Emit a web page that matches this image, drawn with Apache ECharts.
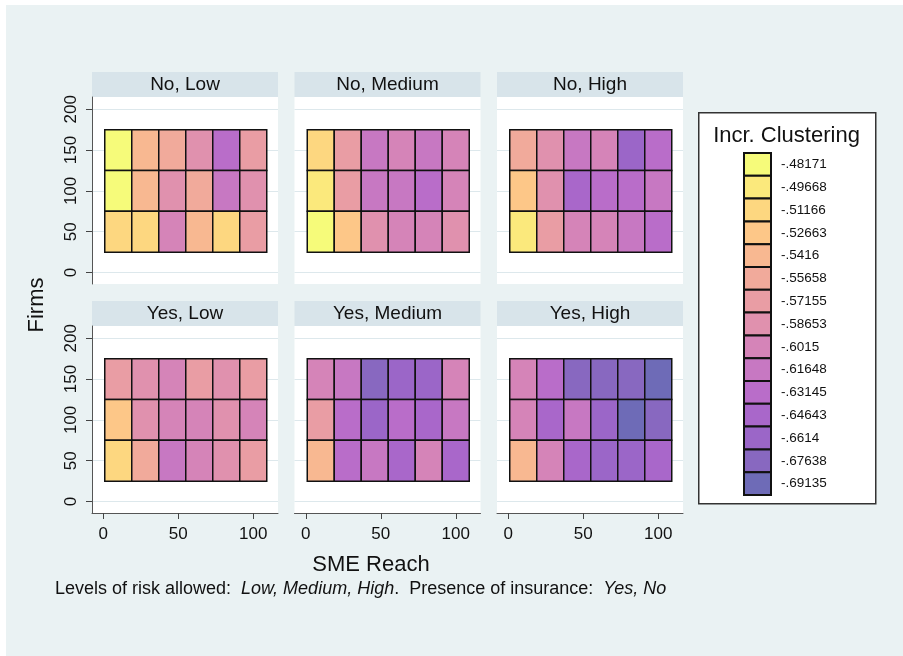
<!DOCTYPE html>
<html>
<head>
<meta charset="utf-8">
<script src="https://cdn.jsdelivr.net/npm/echarts@6/dist/echarts.min.js"></script>
<style>
  html, body { margin: 0; padding: 0; background: #ffffff; width: 903px; height: 656px; overflow: hidden; }
  #chart { position: absolute; left: 6px; top: 5px; width: 897px; height: 651px; }
</style>
</head>
<body>
<div id="chart"></div>
<script>
// SME reach (x) and firm count (y) at the centre of each cell
const reach = [10, 28, 46, 64, 82, 100];
const firms = [150, 100, 50];               // row order: top, middle, bottom

// Clustering levels shown in the key, highest to lowest
const levels = [-.48171, -.49668, -.51166, -.52663, -.5416, -.55658, -.57155, -.58653,
                -.6015, -.61648, -.63145, -.64643, -.6614, -.67638, -.69135];
const levelLabels = ['-.48171', '-.49668', '-.51166', '-.52663', '-.5416', '-.55658', '-.57155', '-.58653',
                     '-.6015', '-.61648', '-.63145', '-.64643', '-.6614', '-.67638', '-.69135'];

// Level index of each cell (rows follow `firms`, columns follow `reach`)
const noLow      = [[0, 4, 5, 7, 10, 6], [0, 4, 7, 5, 9, 7], [2, 2, 8, 4, 2, 6]];
const noMedium   = [[2, 6, 9, 8, 9, 8], [1, 6, 9, 9, 10, 8], [0, 3, 7, 8, 8, 7]];
const noHigh     = [[5, 7, 9, 8, 12, 10], [3, 7, 11, 10, 10, 9], [1, 6, 8, 8, 9, 10]];
const yesLow     = [[6, 7, 8, 6, 7, 6], [3, 7, 8, 8, 7, 8], [2, 5, 9, 8, 7, 6]];
const yesMedium  = [[8, 9, 13, 12, 12, 8], [6, 10, 12, 10, 11, 9], [4, 10, 9, 11, 8, 11]];
const yesHigh    = [[8, 10, 13, 13, 13, 14], [8, 11, 9, 12, 14, 13], [4, 8, 11, 12, 12, 11]];

const panelTitles = ['No, Low', 'No, Medium', 'No, High', 'Yes, Low', 'Yes, Medium', 'Yes, High'];
const panels = [noLow, noMedium, noHigh, yesLow, yesMedium, yesHigh];

const xTicks = [0, 50, 100];
const yTicks = [0, 50, 100, 150, 200];

// plasma ramp, lightened toward white
const palette = ['#f6fb7a', '#fbe97c', '#fdd780', '#fdc788', '#f8b891', '#f1aa9b', '#e99da4', '#e091ae',
                 '#d584b8', '#c778c2', '#b96dc9', '#a967ca', '#9b66c8', '#8868c0', '#6e6bb7'];

const FONT = '"Liberation Sans", Arial, Helvetica, sans-serif';
const OX = 6, OY = 5;                     // chart container offset in the page
const X = v => v - OX, Y = v => v - OY;

const colLeft = [92, 294.5, 497];
const rowTop = [97, 326];
const stripTop = [72, 301];
const plotW = 186, plotH = 187;

const grids = [], xAxes = [], yAxes = [], series = [], graphics = [];

panels.forEach((cells, i) => {
  const r = Math.floor(i / 3), c = i % 3;
  grids.push({
    left: X(colLeft[c]), top: Y(rowTop[r]), width: plotW, height: plotH,
    show: true, backgroundColor: '#ffffff', borderWidth: 0, containLabel: false
  });
  xAxes.push({
    gridIndex: i, type: 'value', min: -7.5, max: 116.5,
    axisLine: { show: r === 1, onZero: false, lineStyle: { color: '#555555', width: 1 } },
    axisTick: { show: r === 1, customValues: xTicks, length: 6, lineStyle: { color: '#444444' } },
    axisLabel: { show: r === 1, customValues: xTicks, fontSize: 17, fontFamily: FONT, color: '#111111', margin: 13 },
    splitLine: { show: false }
  });
  yAxes.push({
    gridIndex: i, type: 'value', min: -14, max: 215,
    axisLine: { show: c === 0, onZero: false, lineStyle: { color: '#555555', width: 1 } },
    axisTick: { show: c === 0, customValues: yTicks, length: 6, lineStyle: { color: '#444444' } },
    axisLabel: { show: c === 0, customValues: yTicks, rotate: 90, fontSize: 17, fontFamily: FONT, color: '#111111', margin: 12 },
    splitLine: { show: true, lineStyle: { color: '#dde8ec', width: 1 } }
  });
  const data = [];
  cells.forEach((row, ri) => row.forEach((lv, ci) => data.push([reach[ci], firms[ri], levels[lv]])));
  series.push({
    type: 'custom', xAxisIndex: i, yAxisIndex: i,
    dimensions: ['reach', 'firms', 'clustering'],
    encode: { x: 0, y: 1 },
    data: data,
    renderItem: (params, api) => {
      const x = api.value(0), y = api.value(1);
      const a = api.coord([x - 9, y + 25]);
      const b = api.coord([x + 9, y - 25]);
      return {
        type: 'rect',
        shape: { x: a[0], y: a[1], width: b[0] - a[0], height: b[1] - a[1] },
        style: { fill: api.visual('color'), stroke: '#111111', lineWidth: 1.5 }
      };
    }
  });
  // panel strip
  graphics.push({
    type: 'rect', left: X(colLeft[c]), top: Y(stripTop[r]),
    shape: { width: plotW, height: rowTop[r] - stripTop[r] },
    style: { fill: '#d8e4ea' }, silent: true
  });
  graphics.push({
    type: 'text', x: X(colLeft[c] + plotW / 2), y: Y((stripTop[r] + rowTop[r]) / 2 + 0.5),
    style: { text: panelTitles[i], font: '19px ' + FONT, fill: '#111111', align: 'center', verticalAlign: 'middle' },
    silent: true
  });
});

// axis titles and note
graphics.push({
  type: 'text', x: X(37), y: Y(305), rotation: Math.PI / 2,
  style: { text: 'Firms', font: '22px ' + FONT, fill: '#111111', align: 'center', verticalAlign: 'middle' }
});
graphics.push({
  type: 'text', x: X(371), y: Y(565),
  style: { text: 'SME Reach', font: '22px ' + FONT, fill: '#111111', align: 'center', verticalAlign: 'middle' }
});
graphics.push({
  type: 'text', x: X(55), y: Y(589),
  style: {
    text: 'Levels of risk allowed:  {i|Low, Medium, High}.  Presence of insurance:  {i|Yes, No}',
    font: '18px ' + FONT, fill: '#111111', align: 'left', verticalAlign: 'middle',
    rich: { i: { fontStyle: 'italic', fontSize: 18, fontFamily: FONT, fill: '#111111' } }
  }
});

// key
const keyLeft = 698, keyTop = 112, keyRight = 875, keyBottom = 503;
graphics.push({
  type: 'rect', left: X(keyLeft), top: Y(keyTop),
  shape: { width: keyRight - keyLeft, height: keyBottom - keyTop },
  style: { fill: '#ffffff', stroke: '#333333', lineWidth: 1.5 }
});
graphics.push({
  type: 'text', x: X((keyLeft + keyRight) / 2), y: Y(136),
  style: { text: 'Incr. Clustering', font: '22px ' + FONT, fill: '#111111', align: 'center', verticalAlign: 'middle' }
});
const swTop = 153, swH = 22.8, swLeft = 744, swW = 27;
levels.forEach((lv, k) => {
  graphics.push({
    type: 'rect', x: X(swLeft), y: Y(swTop + k * swH),
    shape: { width: swW, height: swH },
    style: { fill: palette[k], stroke: '#111111', lineWidth: 2 }
  });
  graphics.push({
    type: 'text', x: X(781), y: Y(swTop + k * swH + swH / 2),
    style: { text: levelLabels[k], font: '13.5px ' + FONT, fill: '#111111', align: 'left', verticalAlign: 'middle' }
  });
});

const pieces = levels.map((lv, k) => ({ min: lv - 0.007, max: lv + 0.007, color: palette[k] }));

const chart = echarts.init(document.getElementById('chart'), null, { renderer: 'canvas' });
chart.setOption({
  animation: false,
  backgroundColor: '#eaf2f3',
  textStyle: { fontFamily: FONT },
  grid: grids,
  xAxis: xAxes,
  yAxis: yAxes,
  visualMap: {
    type: 'piecewise', show: false, dimension: 2,
    seriesIndex: series.map((s, i) => i),
    pieces: pieces
  },
  series: series,
  graphic: { elements: graphics }
});
</script>
</body>
</html>
